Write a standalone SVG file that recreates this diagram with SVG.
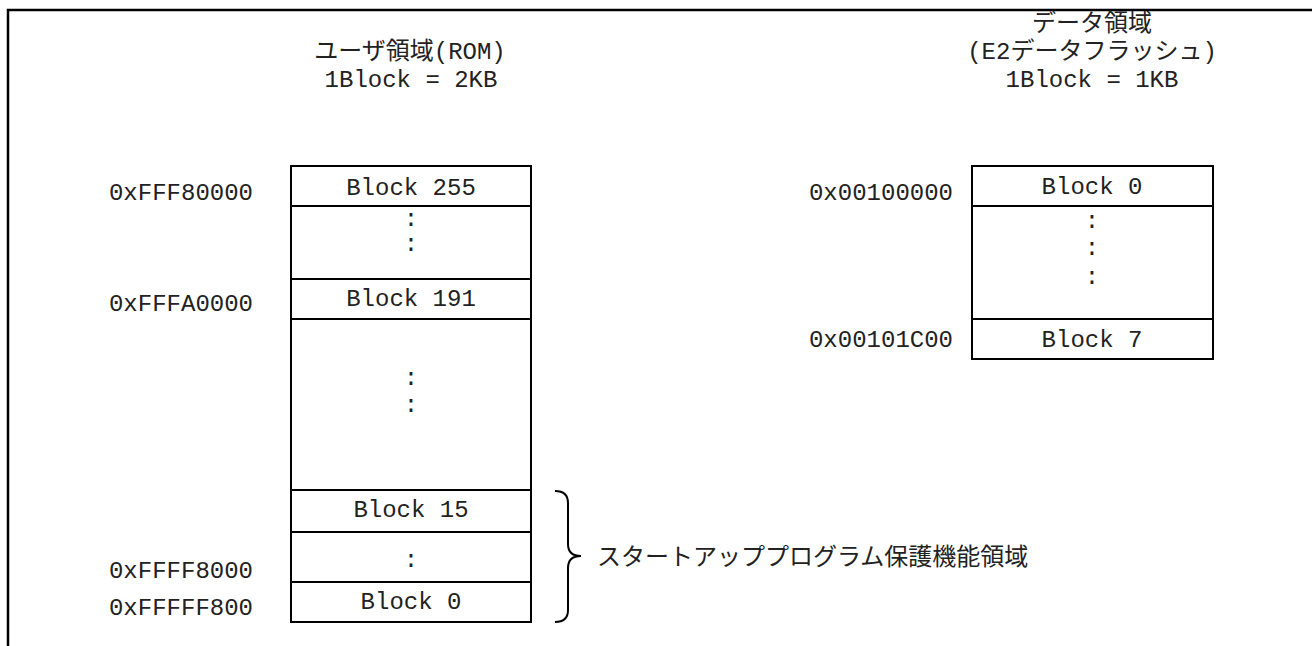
<svg xmlns="http://www.w3.org/2000/svg" width="1312" height="646" viewBox="0 0 1312 646">
<style>
.t{font-family:"Liberation Mono","Noto Sans CJK JP",monospace;font-size:24px;fill:#222}
.j{font-family:"Noto Sans CJK JP",sans-serif;font-size:24px;fill:#222}
.c{text-anchor:middle}
.e{text-anchor:end}
.b{fill:#fff;stroke:#000;stroke-width:2}
.ln{fill:none;stroke:#000;stroke-width:2}
</style>
<rect width="1312" height="646" fill="#fff"/>
<path d="M8,646 V10 H1312" fill="none" stroke="#000" stroke-width="2.5"/>

<g id="title-rom">
<text class="t c" x="410" y="59">ユーザ領域(ROM)</text>
<text class="t c" x="411" y="87">1Block = 2KB</text>
</g>
<g id="title-data">
<text class="t c" x="1092" y="31">データ領域</text>
<text class="t c" x="1092" y="59">(E2データフラッシュ)</text>
<text class="t c" x="1092" y="87">1Block = 1KB</text>
</g>

<g id="rom-block255">
<rect class="b" x="291" y="166" width="240" height="40"/>
<text class="t c" x="411" y="195">Block 255</text>
</g>
<g id="rom-gap1">
<rect class="b" x="291" y="206" width="240" height="73"/>
<text class="t c" x="411" y="226">:</text>
<text class="t c" x="411" y="251">:</text>
</g>
<g id="rom-block191">
<rect class="b" x="291" y="279" width="240" height="40"/>
<text class="t c" x="411" y="306">Block 191</text>
</g>
<g id="rom-gap2">
<rect class="b" x="291" y="319" width="240" height="171"/>
<text class="t c" x="411" y="385">:</text>
<text class="t c" x="411" y="412">:</text>
</g>
<g id="rom-block15">
<rect class="b" x="291" y="490" width="240" height="42"/>
<text class="t c" x="411" y="517">Block 15</text>
</g>
<g id="rom-gap3">
<rect class="b" x="291" y="532" width="240" height="50"/>
<text class="t c" x="411" y="567">:</text>
</g>
<g id="rom-block0">
<rect class="b" x="291" y="582" width="240" height="40"/>
<text class="t c" x="411" y="609">Block 0</text>
</g>

<g id="rom-addresses">
<text class="t e" x="253" y="200">0xFFF80000</text>
<text class="t e" x="253" y="311">0xFFFA0000</text>
<text class="t e" x="253" y="578">0xFFFF8000</text>
<text class="t e" x="253" y="615">0xFFFFF800</text>
</g>

<g id="data-block0">
<rect class="b" x="972" y="166" width="241" height="40"/>
<text class="t c" x="1092" y="194">Block 0</text>
</g>
<g id="data-gap">
<rect class="b" x="972" y="206" width="241" height="113"/>
<text class="t c" x="1092" y="228">:</text>
<text class="t c" x="1092" y="255">:</text>
<text class="t c" x="1092" y="284">:</text>
</g>
<g id="data-block7">
<rect class="b" x="972" y="319" width="241" height="40"/>
<text class="t c" x="1092" y="347">Block 7</text>
</g>
<g id="data-addresses">
<text class="t e" x="953" y="200">0x00100000</text>
<text class="t e" x="953" y="347">0x00101C00</text>
</g>

<g id="connectors">
<path class="ln" d="M555,491 Q568,491 568,503 L568,544 Q568,556 581,556 Q568,556 568,568 L568,610 Q568,622 555,622"/>
</g>
<g id="startup-label">
<text class="j" x="597" y="565">スタートアッププログラム保護機能領域</text>
</g>
</svg>
